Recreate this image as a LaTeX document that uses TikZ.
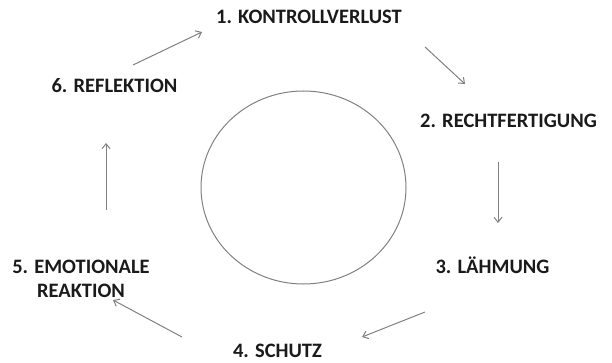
\documentclass[tikz,border=0pt]{standalone}
\usepackage{fontspec}
\setmainfont{Carlito}
\usetikzlibrary{arrows.meta}
\definecolor{linegray}{HTML}{808080}
\definecolor{textdark}{HTML}{1A1A1A}
\tikzset{
  stage/.style={font=\bfseries\fontsize{20.5}{24}\selectfont, text=textdark, inner sep=0pt, anchor=base},
  flow/.style={draw=linegray, line width=1pt, -{Straight Barb[length=5pt,width=8pt,line width=1pt]}},
  hub/.style={draw=linegray, line width=1pt}
}
\begin{document}
\begin{tikzpicture}[x=1pt,y=1pt]
\useasboundingbox (0,0) rectangle (612,362);
% central circle
\draw[hub] (303.5,174.5) ellipse [x radius=102.5, y radius=96.5];
% stage labels
\node[stage] (s1) at (309,338.7) {1. KONTROLLVERLUST};
\node[stage] (s2) at (508.5,234) {2. RECHTFERTIGUNG};
\node[stage] (s3) at (492.5,89) {3. LÄHMUNG};
\node[stage] (s4) at (277.5,4.5) {4. SCHUTZ};
\node[stage, align=center] (s5) at (81,65) {5. EMOTIONALE\\REAKTION};
\node[stage] (s6) at (114.5,269) {6. REFLEKTION};
% arrow end points
\coordinate (a1) at (425,315);
\coordinate (b1) at (465,278);
\coordinate (a2) at (498,200);
\coordinate (b2) at (498,139);
\coordinate (a3) at (425,50);
\coordinate (b3) at (362,25);
\coordinate (a4) at (182,25);
\coordinate (b4) at (113,62);
\coordinate (a5) at (106,152);
\coordinate (b5) at (106,219);
\coordinate (a6) at (133,297);
\coordinate (b6) at (202,330);
% cycle arrows
\draw[flow] (a1) -- (b1);
\draw[flow] (a2) -- (b2);
\draw[flow] (a3) -- (b3);
\draw[flow] (a4) -- (b4);
\draw[flow] (a5) -- (b5);
\draw[flow] (a6) -- (b6);
\end{tikzpicture}
\end{document}
